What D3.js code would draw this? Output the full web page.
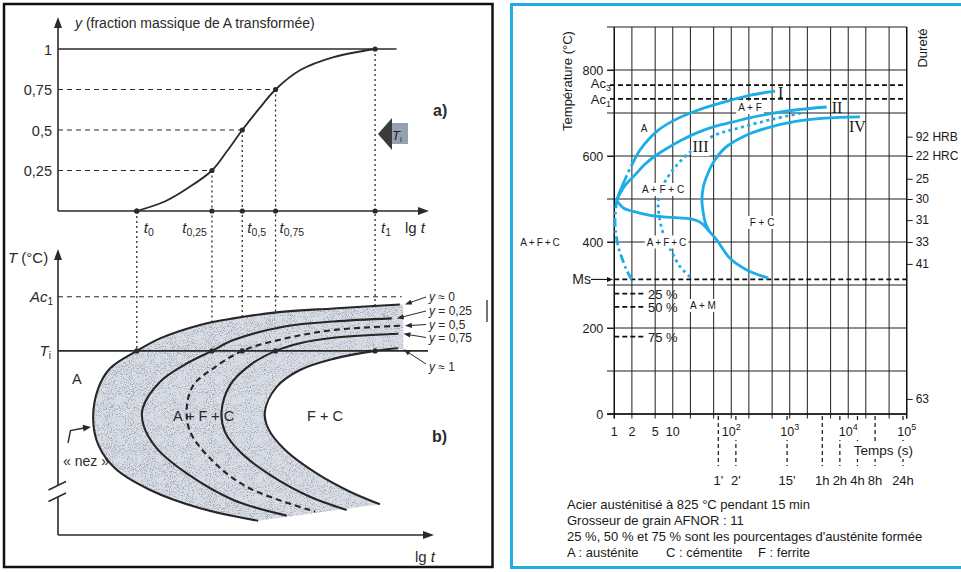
<!DOCTYPE html>
<html>
<head>
<meta charset="utf-8">
<script src="https://cdn.jsdelivr.net/npm/d3@7"></script>
<style>
  html, body { margin: 0; padding: 0; background: #fff; }
  svg { display: block; font-family: "Liberation Sans", Arial, Helvetica, sans-serif; }
</style>
</head>
<body>
<svg id="fig" width="961" height="572"></svg>
<script>
// ================= DATA =================
// --- Left figure, panel a) : transformed fraction y versus lg t (lg t in arbitrary units 0..10)
const fractionLevels   = [0, 0.25, 0.5, 0.75, 1];
const fractionTickText = ["", "0,25", "0,5", "0,75", "1"];
const timeMarks        = [2.13, 4.16, 4.98, 5.88, 8.57];      // t0, t0.25, t0.5, t0.75, t1
const timeMarkSubs     = ["0", "0,25", "0,5", "0,75", "1"];
const sigmoid = [[2.13,0],[2.9,0.06],[3.5,0.14],[4.16,0.25],[4.57,0.37],[4.98,0.5],
                 [5.43,0.63],[5.88,0.75],[6.55,0.87],[7.45,0.95],[8.57,1]];
const sigmoidPlateauEnd = 9.15;

// --- Left figure, panel b) : iso-fraction curves, temperature in arbitrary units 0..10
const tempAc1 = 8.36;
const tempTi  = 6.46;
const isoY0   = [[9.24,8.09],[7.44,7.95],[5.91,7.81],[4.74,7.60],[3.84,7.37],[2.76,6.90],[2.13,6.46],
                 [1.41,5.85],[1.09,5.15],[0.95,4.09],[1.09,3.16],[1.54,2.34],[2.49,1.58],[3.84,0.94],[5.41,0.50]];
const isoY025 = [[9.02,7.60],[7.44,7.49],[6.09,7.31],[4.74,6.84],[4.16,6.46],[3.48,6.02],[2.76,5.38],
                 [2.29,4.45],[2.31,3.86],[2.67,3.04],[3.48,2.16],[4.74,1.23],[6.18,0.68]];
const isoY05  = [[9.24,7.34],[7.44,7.19],[6.09,6.88],[4.98,6.46],[4.20,5.85],[3.66,5.26],[3.48,4.45],
                 [3.57,3.63],[4.11,2.69],[5.10,1.69],[6.95,0.82]];
const isoY075 = [[9.20,7.06],[7.44,6.92],[6.54,6.73],[5.88,6.46],[5.19,5.96],[4.65,5.26],[4.42,4.33],
                 [4.51,3.63],[4.92,2.92],[5.73,2.11],[6.81,1.34],[7.80,0.88]];
const isoY1   = [[9.20,6.55],[8.57,6.46],[7.44,6.18],[6.54,5.79],[5.91,5.20],[5.59,4.33],[5.68,3.74],
                 [6.14,2.98],[6.99,2.16],[7.89,1.52],[8.70,1.08]];
const isoLabels = [["≈","0"],["=","0,25"],["=","0,5"],["=","0,75"],["≈","1"]];

// --- Right figure : TTT diagram (time in s, temperature in °C)
const gridTimes   = [1,2,5,10,20,50,100,200,500,1e3,2e3,5e3,1e4,2e4,5e4,1e5];
const gridTemps   = [0,100,200,300,400,500,600,700,800,900];
const tempTicks   = [0,200,400,600,800];
const timeTickVal = [1,2,5,10,100,1000,10000,100000];
const timeTickBase= ["1","2","5","10","10","10","10","10"];
const timeTickExp = ["","","","","2","3","4","5"];
const durationSec = [60,120,900,3600,7200,14400,28800,86400];
const durationTxt = ["1'","2'","15'","1h","2h","4h","8h","24h"];
const hardnessTemps  = [645,600,547,500,451,400,349,35];
const hardnessLabels = ["92 HRB","22 HRC","25","30","31","33","41","63"];
const Ac3 = 765, Ac1 = 733, Ms = 313;
const martensiteTemps  = [280,249,180];
const martensiteLabels = ["25 %","50 %","75 %"];

const curveIStart = [[1.98,313],[1.67,331],[1.39,358],[1.17,389],[1.05,428],[1.03,451],[1.07,482],[1.10,497]];
const curveI   = [[1.10,497],[1.25,518],[1.5,543],[1.74,563],[2.1,585],[2.75,614],[5.65,660],[10.9,684],
                  [27.3,707],[78.2,726],[223,742],[560,751]];
const curveII  = [[1.10,497],[1.17,505],[1.5,530],[2.26,556],[3.3,580],[4.97,600],[8.5,620],[14.2,637],
                  [27,655],[52.7,669],[100,678],[195,688],[500,699],[1227,707],[4285,714]];
const curveIII = [[19.7,319],[13.3,343],[9.58,377],[6.88,420],[5.89,459],[5.65,494],[6.46,525],[9.58,564],
                  [17.3,602],[50,647],[141,666],[524,686],[1600,700]];
const curveIV  = [[15900,691],[4000,688],[1200,680],[400,665],[160,645],[80,620],[52,590],[40,560],
                  [33.5,530],[31.5,498],[33.3,467],[36,445],[42,425]];
const curveBainite = [[1.10,497],[1.43,479],[2.11,471],[4.08,462],[7.87,458],[17.3,455],[25.6,450],
                  [33,441],[42,425],[56.4,405],[95,362],[184,335],[430,316]];

const footnotes = ["Acier austénitisé à 825 °C pendant 15 min",
                   "Grosseur de grain AFNOR : 11",
                   "25 %, 50 % et 75 % sont les pourcentages d'austénite formée"];
const legendItems = ["A : austénite", "C : cémentite", "F : ferrite"];

// ================= DRAWING =================
const svg = d3.select("#fig");
const ink = "#2a2a2a";
const blue = "#1badE6";

function arrowHead(g, tip, from, len, hw, fill) {
  const dx = tip[0] - from[0], dy = tip[1] - from[1];
  const Ln = Math.hypot(dx, dy), ux = dx / Ln, uy = dy / Ln;
  const bx = tip[0] - ux * len, by = tip[1] - uy * len;
  g.append("path")
    .attr("d", `M${tip[0]},${tip[1]}L${bx - uy * hw},${by + ux * hw}L${bx + uy * hw},${by - ux * hw}Z`)
    .attr("fill", fill);
}
function arrowLine(g, from, tip, len, hw, color, width) {
  const dx = tip[0] - from[0], dy = tip[1] - from[1], Ln = Math.hypot(dx, dy);
  g.append("line").attr("x1", from[0]).attr("y1", from[1])
    .attr("x2", tip[0] - dx / Ln * len * 0.7).attr("y2", tip[1] - dy / Ln * len * 0.7)
    .attr("stroke", color).attr("stroke-width", width);
  arrowHead(g, tip, from, len, hw, color);
}
function boxed(g, x, y, build, pad) {
  const t = g.append("text").attr("x", x).attr("y", y);
  build(t);
  const b = t.node().getBBox();
  g.insert("rect", () => t.node())
    .attr("x", b.x - pad).attr("y", b.y - 1).attr("width", b.width + 2 * pad).attr("height", b.height + 2)
    .attr("fill", "#fff");
  return t;
}

// grain texture for the shaded band
const defs = svg.append("defs");
const grain = defs.append("filter").attr("id", "grain").attr("filterUnits", "userSpaceOnUse")
  .attr("x", 0).attr("y", 0).attr("width", 961).attr("height", 572);
grain.append("feTurbulence").attr("type", "fractalNoise").attr("baseFrequency", 1.05)
  .attr("numOctaves", 2).attr("seed", 5).attr("result", "noise");
grain.append("feColorMatrix").attr("in", "noise").attr("type", "matrix")
  .attr("values", "0 0 0 0 0.34  0 0 0 0 0.36  0 0 0 0 0.42  3.9 0 0 0 -2.02").attr("result", "speck");
grain.append("feComposite").attr("in", "speck").attr("in2", "SourceAlpha").attr("operator", "in");

// ---------------- LEFT FIGURE ----------------
const L = svg.append("g").attr("fill", ink);
L.append("rect").attr("x", 4).attr("y", 4).attr("width", 488.5).attr("height", 563)
  .attr("fill", "none").attr("stroke", "#111").attr("stroke-width", 2.5);

const xLg   = d3.scaleLinear().domain([0, 10]).range([58, 428]);
const yFrac = d3.scaleLinear().domain([0, 1]).range([211, 49]);
const yTemp = d3.scaleLinear().domain([0, 10]).range([535, 250]);

// panel a) axes
L.append("line").attr("x1", xLg(0)).attr("y1", yFrac(0)).attr("x2", xLg(0)).attr("y2", 26)
  .attr("stroke", ink).attr("stroke-width", 1.6);
arrowHead(L, [xLg(0), 17], [xLg(0), 40], 11, 4, ink);
L.append("line").attr("x1", xLg(0)).attr("y1", yFrac(0)).attr("x2", 420).attr("y2", yFrac(0))
  .attr("stroke", ink).attr("stroke-width", 1.6);
arrowHead(L, [429, yFrac(0)], [400, yFrac(0)], 11, 4, ink);
L.append("line").attr("x1", xLg(0)).attr("y1", yFrac(1)).attr("x2", xLg(sigmoidPlateauEnd)).attr("y2", yFrac(1))
  .attr("stroke", ink).attr("stroke-width", 1.5);

fractionLevels.forEach((lv, i) => {
  if (!fractionTickText[i]) return;
  L.append("text").attr("x", 52).attr("y", yFrac(lv) + 5.5).attr("text-anchor", "end")
    .attr("font-size", 14.5).text(fractionTickText[i]);
  if (lv > 0 && lv < 1) {
    L.append("line").attr("x1", xLg(0)).attr("x2", xLg(timeMarks[i])).attr("y1", yFrac(lv)).attr("y2", yFrac(lv))
      .attr("stroke", ink).attr("stroke-width", 1.2).attr("stroke-dasharray", "5,4");
  }
});
// vertical guides running down to the Ti isotherm
timeMarks.forEach((t, i) => {
  L.append("line").attr("x1", xLg(t)).attr("x2", xLg(t)).attr("y1", yFrac(fractionLevels[i])).attr("y2", yTemp(tempTi))
    .attr("stroke", ink).attr("stroke-width", 1.3).attr("stroke-dasharray", "2,3");
});
L.append("path").attr("d", d3.line().x(d => xLg(d[0])).y(d => yFrac(d[1])).curve(d3.curveCatmullRom.alpha(0.5))(sigmoid))
  .attr("fill", "none").attr("stroke", ink).attr("stroke-width", 1.8);
timeMarks.forEach((t, i) => {
  L.append("circle").attr("cx", xLg(t)).attr("cy", yFrac(0)).attr("r", 2.6);
  L.append("circle").attr("cx", xLg(t)).attr("cy", yFrac(fractionLevels[i])).attr("r", 2.6);
});
const tLabelDx = [7, -5, 5, 4, 6];
timeMarks.forEach((t, i) => {
  const tx = L.append("text").attr("x", xLg(t) + tLabelDx[i]).attr("y", 233)
    .attr("text-anchor", tLabelDx[i] < 0 ? "end" : "start").attr("font-size", 15);
  tx.append("tspan").attr("font-style", "italic").text("t");
  tx.append("tspan").attr("font-size", 10.5).attr("dy", 3).text(timeMarkSubs[i]);
});
const lgA = L.append("text").attr("x", 405).attr("y", 233).attr("font-size", 15);
lgA.append("tspan").text("lg ");
lgA.append("tspan").attr("font-style", "italic").text("t");

const title = L.append("text").attr("x", 75).attr("y", 28).attr("font-size", 14);
title.append("tspan").attr("font-style", "italic").text("y");
title.append("tspan").text(" (fraction massique de A transformée)");
L.append("text").attr("x", 433).attr("y", 116).attr("font-size", 16).attr("font-weight", "bold").text("a)");

// Ti marker arrow
L.append("rect").attr("x", 390).attr("y", 123).attr("width", 18).attr("height", 21).attr("fill", "#95a1ad");
L.append("path").attr("d", "M378,134L392,118L392,150Z").attr("fill", "#3b3b3b");
const tiIcon = L.append("text").attr("x", 392).attr("y", 140).attr("font-size", 13).attr("fill", "#222");
tiIcon.append("tspan").attr("font-style", "italic").text("T");
tiIcon.append("tspan").attr("font-size", 8).attr("dy", 2).text("i");

// panel b) axes with a break
L.append("line").attr("x1", xLg(0)).attr("x2", xLg(0)).attr("y1", yTemp(0)).attr("y2", 497)
  .attr("stroke", ink).attr("stroke-width", 1.6);
L.append("line").attr("x1", xLg(0)).attr("x2", xLg(0)).attr("y1", 486).attr("y2", 258)
  .attr("stroke", ink).attr("stroke-width", 1.6);
arrowHead(L, [xLg(0), 249], [xLg(0), 280], 11, 4, ink);
[[490, 481.5], [501.5, 493]].forEach(s => {
  L.append("line").attr("x1", 48.5).attr("y1", s[0]).attr("x2", 66).attr("y2", s[1])
    .attr("stroke", ink).attr("stroke-width", 1.4);
});
L.append("line").attr("x1", xLg(0)).attr("x2", 425).attr("y1", yTemp(0)).attr("y2", yTemp(0))
  .attr("stroke", ink).attr("stroke-width", 1.6);
arrowHead(L, [434, yTemp(0)], [400, yTemp(0)], 11, 4, ink);

L.append("line").attr("x1", xLg(0)).attr("x2", 401.7).attr("y1", yTemp(tempAc1)).attr("y2", yTemp(tempAc1))
  .attr("stroke", ink).attr("stroke-width", 1.2).attr("stroke-dasharray", "5,4");

// shaded transformation band between y≈0 and y≈1
const lineB = d3.line().x(d => xLg(d[0])).y(d => yTemp(d[1])).curve(d3.curveCatmullRom.alpha(0.5));
const bandPath = lineB(isoY0) + "L" + lineB(isoY1.slice().reverse()).slice(1)
  + `L${xLg(9.33)},${yTemp(6.52)}L${xLg(9.33)},${yTemp(8.10)}Z`;
L.append("path").attr("d", bandPath).attr("fill", "#d8dde6");
L.append("path").attr("d", bandPath).attr("fill", "#000").attr("filter", "url(#grain)");
const innerBand = lineB(isoY0) + "L" + lineB(isoY025.slice().reverse()).slice(1) + "Z";
L.append("path").attr("d", innerBand).attr("fill", "#000").attr("opacity", 0.5).attr("filter", "url(#grain)");

L.append("line").attr("x1", xLg(0)).attr("x2", 428).attr("y1", yTemp(tempTi)).attr("y2", yTemp(tempTi))
  .attr("stroke", ink).attr("stroke-width", 1.8);

[isoY0, isoY025, isoY05, isoY075, isoY1].forEach((c, i) => {
  L.append("path").attr("d", lineB(c)).attr("fill", "none").attr("stroke", "#262626")
    .attr("stroke-width", 2.1).attr("stroke-dasharray", i === 2 ? "6,4" : null);
});
timeMarks.forEach(t => L.append("circle").attr("cx", xLg(t)).attr("cy", yTemp(tempTi)).attr("r", 2.6));

const tAx = L.append("text").attr("x", 8).attr("y", 263).attr("font-size", 15);
tAx.append("tspan").attr("font-style", "italic").text("T");
tAx.append("tspan").text(" (°C)");
const acL = L.append("text").attr("x", 53).attr("y", yTemp(tempAc1) + 5).attr("text-anchor", "end").attr("font-size", 15);
acL.append("tspan").attr("font-style", "italic").text("Ac");
acL.append("tspan").attr("font-size", 10).attr("dy", 3).text("1");
const tiL = L.append("text").attr("x", 51).attr("y", yTemp(tempTi) + 5).attr("text-anchor", "end").attr("font-size", 15);
tiL.append("tspan").attr("font-style", "italic").text("T");
tiL.append("tspan").attr("font-size", 10).attr("dy", 3).text("i");

L.append("text").attr("x", 72).attr("y", 384).attr("font-size", 14.5).text("A");
L.append("text").attr("x", 173).attr("y", 421).attr("font-size", 14.5).text("A + F + C");
L.append("text").attr("x", 307).attr("y", 421).attr("font-size", 14.5).text("F + C");
L.append("text").attr("x", 432).attr("y", 442).attr("font-size", 16).attr("font-weight", "bold").text("b)");
L.append("text").attr("x", 63).attr("y", 466).attr("font-size", 14).text("« nez »");
L.append("path").attr("d", "M68,443L70.5,430.5L84,428").attr("fill", "none").attr("stroke", ink).attr("stroke-width", 1.4);
arrowHead(L, [91, 427], [70, 430], 8, 3.5, ink);

// labels of the iso-fraction curves with leaders
const isoCurves = [isoY0, isoY025, isoY05, isoY075, isoY1];
const isoLabelY = [297, 311, 324.5, 337.5, 367];
isoCurves.forEach((c, i) => {
  const end = c[0];
  const tip = [xLg(end[0]) + 5, yTemp(end[1]) + (i === 4 ? 1 : 0)];
  const from = [426, isoLabelY[i] + (i === 4 ? -3 : 0)];
  arrowLine(L, from, tip, 7, 2.6, ink, 1);
  const lt = L.append("text").attr("x", 429).attr("y", isoLabelY[i] + 4).attr("font-size", 12);
  lt.append("tspan").attr("font-style", "italic").text("y");
  lt.append("tspan").text(" " + isoLabels[i][0] + " " + isoLabels[i][1]);
});
const lgB = L.append("text").attr("x", 415).attr("y", 562).attr("font-size", 15);
lgB.append("tspan").text("lg ");
lgB.append("tspan").attr("font-style", "italic").text("t");
L.append("line").attr("x1", 487).attr("x2", 487).attr("y1", 300).attr("y2", 322).attr("stroke", ink).attr("stroke-width", 1.3);

// ---------------- RIGHT FIGURE ----------------
const R = svg.append("g").attr("fill", "#1a1a1a");
R.append("rect").attr("x", 511.5).attr("y", 4.5).attr("width", 470).attr("height", 563)
  .attr("fill", "none").attr("stroke", "#22ace6").attr("stroke-width", 3);

const xTime = d3.scaleLog().domain([1, 1e5]).range([614.3, 906.7]);
const yDeg  = d3.scaleLinear().domain([0, 900]).range([414, 27]);

// grid
gridTimes.forEach(t => {
  R.append("line").attr("x1", xTime(t)).attr("x2", xTime(t)).attr("y1", yDeg(900)).attr("y2", yDeg(0) + 4.5)
    .attr("stroke", "#1e1e1e").attr("stroke-width", 1);
});
gridTemps.forEach(T => {
  R.append("line").attr("x1", 607).attr("x2", xTime(1e5)).attr("y1", yDeg(T)).attr("y2", yDeg(T))
    .attr("stroke", "#1e1e1e").attr("stroke-width", 1);
});
R.append("line").attr("x1", xTime(1)).attr("x2", xTime(1)).attr("y1", yDeg(900)).attr("y2", yDeg(0) + 4.5)
  .attr("stroke", "#111").attr("stroke-width", 1.4);
R.append("line").attr("x1", xTime(1e5)).attr("x2", xTime(1e5)).attr("y1", yDeg(900)).attr("y2", yDeg(0) + 4.5)
  .attr("stroke", "#111").attr("stroke-width", 1.4);
R.append("line").attr("x1", 607).attr("x2", xTime(1e5)).attr("y1", yDeg(0)).attr("y2", yDeg(0))
  .attr("stroke", "#111").attr("stroke-width", 1.4);

// left temperature axis
const axL = R.append("g").attr("transform", `translate(${xTime(1)},0)`)
  .call(d3.axisLeft(yDeg).tickValues(tempTicks).tickSize(7).tickPadding(4));
axL.select(".domain").remove();
axL.selectAll("text").attr("font-family", "Liberation Sans, Arial, sans-serif").attr("font-size", 12.5).attr("fill", "#1a1a1a");
axL.selectAll("line").attr("stroke", "#1e1e1e");

// right hardness axis
const axR = R.append("g").attr("transform", `translate(${xTime(1e5)},0)`)
  .call(d3.axisRight(yDeg).tickValues(hardnessTemps).tickFormat((d, i) => hardnessLabels[i]).tickSize(6).tickPadding(3));
axR.select(".domain").remove();
axR.selectAll("text").attr("font-family", "Liberation Sans, Arial, sans-serif").attr("font-size", 12).attr("fill", "#1a1a1a");
axR.selectAll("line").attr("stroke", "#1e1e1e");

// critical temperatures
[Ac3, Ac1].forEach(T => {
  R.append("line").attr("x1", 610).attr("x2", xTime(1e5)).attr("y1", yDeg(T)).attr("y2", yDeg(T))
    .attr("stroke", "#111").attr("stroke-width", 1.7).attr("stroke-dasharray", "5,3");
});
R.append("line").attr("x1", xTime(1)).attr("x2", xTime(1e5)).attr("y1", yDeg(Ms)).attr("y2", yDeg(Ms))
  .attr("stroke", "#111").attr("stroke-width", 1.7).attr("stroke-dasharray", "5,3");
martensiteTemps.forEach((T, i) => {
  R.append("line").attr("x1", xTime(1)).attr("x2", xTime(1) + 29).attr("y1", yDeg(T)).attr("y2", yDeg(T))
    .attr("stroke", "#111").attr("stroke-width", 1.7).attr("stroke-dasharray", "5,3");
  R.append("text").attr("x", 648).attr("y", yDeg(T) + 5).attr("font-size", 13).text(martensiteLabels[i]);
});
[[Ac3, "3", 3], [Ac1, "1", 5]].forEach(a => {
  const t = R.append("text").attr("x", 611).attr("y", yDeg(a[0]) + a[2]).attr("text-anchor", "end").attr("font-size", 13);
  t.append("tspan").text("Ac");
  t.append("tspan").attr("font-size", 9).attr("dy", 3).text(a[1]);
});
R.append("text").attr("x", 591).attr("y", yDeg(Ms) + 4.5).attr("text-anchor", "end").attr("font-size", 14).text("Ms");
arrowLine(R, [591, yDeg(Ms)], [613, yDeg(Ms)], 6, 2.5, "#111", 1.1);

// transformation curves
const lineR = d3.line().x(d => xTime(d[0])).y(d => yDeg(d[1])).curve(d3.curveCatmullRom.alpha(0.5));
const curves = R.append("g").attr("fill", "none").attr("stroke", blue).attr("stroke-width", 2.8);
curves.append("path").attr("d", lineR(curveIStart)).attr("stroke-dasharray", "9,3.5,2.5,3.5");
const pI = curves.append("path").attr("d", lineR(curveI));
{
  const node = pI.node(), total = node.getTotalLength();
  let l1 = 0;
  for (let s = 0; s <= total; s += 0.5) { if (node.getPointAtLength(s).y <= yDeg(555)) { l1 = s; break; } }
  pI.attr("stroke-dasharray", `${l1},3.5,3,3.5,${total}`);
}
curves.append("path").attr("d", lineR(curveII));
curves.append("path").attr("d", lineR(curveIII)).attr("stroke-dasharray", "3,3.5");
curves.append("path").attr("d", lineR(curveIV));
curves.append("path").attr("d", lineR(curveBainite));

// curve names
const serif = "Liberation Serif, Times New Roman, serif";
const endI = curveI[curveI.length - 1], endII = curveII[curveII.length - 1], endIV = curveIV[0];
R.append("text").attr("x", xTime(endI[0]) + 3).attr("y", yDeg(endI[1]) + 7).attr("font-family", serif).attr("font-size", 16).text("I");
R.append("text").attr("x", xTime(endII[0]) + 5).attr("y", yDeg(endII[1]) + 6).attr("font-family", serif).attr("font-size", 16).text("II");
R.append("text").attr("x", xTime(endIV[0]) - 11).attr("y", yDeg(endIV[1]) + 15).attr("font-family", serif).attr("font-size", 16).text("IV");
boxed(R, 692.5, 152, t => t.attr("font-family", serif).attr("font-size", 16).text("III"), 1);

// phase fields
const fieldLabels = [["A", 644, 132], ["A + F", 750, 111], ["A + F + C", 663, 193],
                     ["A\u2009+\u2009F\u2009+\u2009C", 666.5, 245.5], ["F + C", 762, 226], ["A + M", 703, 309]];
fieldLabels.forEach(f => boxed(R, f[1], f[2], t => t.attr("text-anchor", "middle").attr("font-size", 10).text(f[0]), 2));
R.append("text").attr("x", 540).attr("y", 245.5).attr("text-anchor", "middle").attr("font-size", 10)
  .text("A\u2009+\u2009F\u2009+\u2009C");

// duration marks under the time axis
durationSec.forEach((s, i) => {
  R.append("line").attr("x1", xTime(s)).attr("x2", xTime(s)).attr("y1", yDeg(0) + 2).attr("y2", 466)
    .attr("stroke", "#111").attr("stroke-width", 1.2).attr("stroke-dasharray", "4,3");
  R.append("text").attr("x", xTime(s)).attr("y", 485).attr("text-anchor", "middle").attr("font-size", 13).text(durationTxt[i]);
});
timeTickVal.forEach((v, i) => {
  boxed(R, xTime(v), 436, t => {
    t.attr("text-anchor", "middle").attr("font-size", 12.5);
    t.append("tspan").text(timeTickBase[i]);
    if (timeTickExp[i]) t.append("tspan").attr("font-size", 9).attr("dy", -6).text(timeTickExp[i]);
  }, 0.5);
});
boxed(R, 913, 455, t => t.attr("text-anchor", "end").attr("font-size", 13.5).text("Temps (s)"), 1);

// axis titles
R.append("text").attr("transform", "translate(572,81) rotate(-90)").attr("text-anchor", "middle")
  .attr("font-size", 13).text("Température (°C)");
R.append("text").attr("transform", "translate(927,48) rotate(-90)").attr("text-anchor", "middle")
  .attr("font-size", 13).text("Dureté");

// notes
footnotes.forEach((s, i) => {
  R.append("text").attr("x", 567).attr("y", 509 + i * 16).attr("font-size", 13).text(s);
});
const legendX = [567, 666, 758];
legendItems.forEach((s, i) => R.append("text").attr("x", legendX[i]).attr("y", 557).attr("font-size", 13).text(s));
</script>
</body>
</html>
